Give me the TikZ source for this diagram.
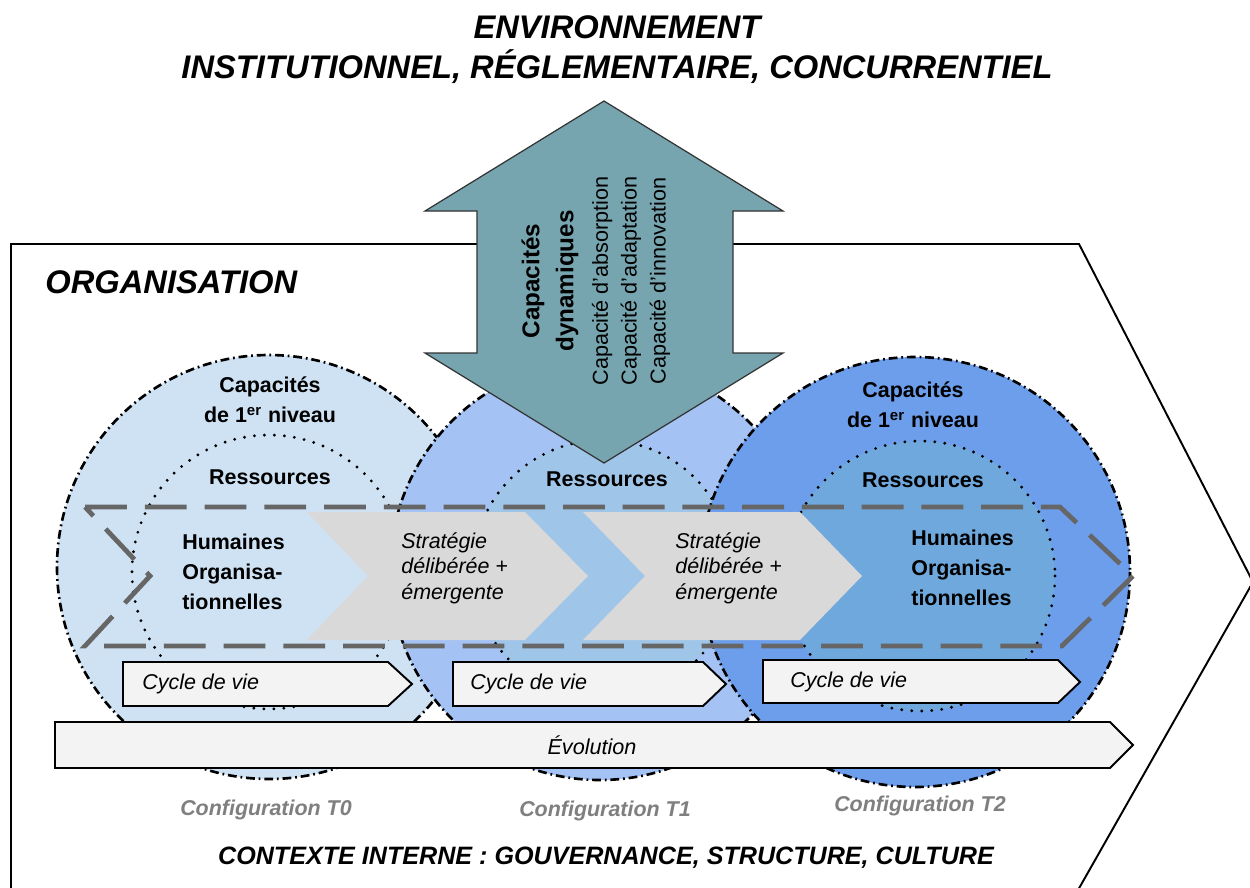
\documentclass[tikz,border=0pt]{standalone}
\usepackage{fontspec}
\setmainfont{Liberation Sans}
\usetikzlibrary{positioning}
\definecolor{capa0}{HTML}{CFE2F3}
\definecolor{capa1}{HTML}{A4C2F4}
\definecolor{capa2}{HTML}{6D9EEB}
\definecolor{res1}{HTML}{9FC5E8}
\definecolor{res2}{HTML}{6FA8DC}
\definecolor{dyncol}{HTML}{76A5AF}
\definecolor{chevgray}{HTML}{D9D9D9}
\definecolor{boxgray}{HTML}{F3F3F3}
\definecolor{bandgray}{HTML}{666666}
\definecolor{confgray}{HTML}{7F7F7F}

\begin{document}
\begin{tikzpicture}[x=0.2mm,y=-0.2mm,
  capa/.style={draw=black,line width=1.5pt,dash pattern=on 5pt off 2.2pt on 1pt off 2.2pt},
  res/.style={draw=black,line width=1.8pt,line cap=round,dash pattern=on 0pt off 5.7pt},
  chev/.style={fill=chevgray},
  band/.style={draw=bandgray,line width=2.7pt,dash pattern=on 23.8pt off 10.2pt},
  lifebox/.style={draw=black,fill=boxgray,line width=1.1pt},
  txt/.style={inner sep=0pt,font=\fontsize{12}{17}\selectfont},
  bold/.style={txt,font=\fontsize{12.2}{17}\selectfont\bfseries,align=center},
  strat/.style={txt,font=\fontsize{12.2}{14.5}\selectfont\itshape,align=left,anchor=west},
  conf/.style={txt,font=\fontsize{12.2}{15}\selectfont\bfseries\itshape,text=confgray},
  big/.style={inner sep=0pt,font=\fontsize{18.6}{22.7}\selectfont\bfseries\itshape,align=center}]
\useasboundingbox (0,0) rectangle (1250,887);

\node[big] (env) at (617,50) {ENVIRONNEMENT\\INSTITUTIONNEL, RÉGLEMENTAIRE, CONCURRENTIEL};

\draw[line width=1.1pt,fill=white] (11,244) -- (1079,244) -- (1253,582) -- (1061,920) -- (11,920) -- cycle;
\node[big,anchor=west] (org) at (45,282) {ORGANISATION};

\coordinate (c0) at (269,567);
\coordinate (c1) at (600,570);
\coordinate (c2) at (915,572);
\coordinate (r0) at (269,572);
\coordinate (r1) at (603,570);
\coordinate (r2) at (920,576);

\draw[capa,fill=capa0] (c0) circle (212);
\draw[res,fill=capa0] (r0) circle (137);
\draw[capa,fill=capa1] (c1) circle (210);
\draw[res,fill=res1] (r1) circle (130);
\draw[capa,fill=capa2] (c2) circle (215);
\draw[res,fill=res2] (r2) circle (135);

\fill[chev] (307,512) -- (525,512) -- (588,576) -- (525,640) -- (307,640) -- (368,576) -- cycle;
\fill[chev] (583,512) -- (800,512) -- (862,576) -- (800,640) -- (583,640) -- (645,576) -- cycle;
\draw[band] (85,507) -- (1060,507) -- (1133,576) -- (1062,646) -- (85,646) -- (150,576) -- cycle;

\node[bold] (cap0) at (270,400) {Capacités\\de 1\textsuperscript{er} niveau};
\node[bold] (cap2) at (913,405) {Capacités\\de 1\textsuperscript{er} niveau};
\node[bold] (res0) at (270,477) {Ressources};
\node[bold] (res1) at (607,479) {Ressources};
\node[bold] (res2) at (923,480) {Ressources};
\node[bold,align=left,anchor=west] (hum0) at (182,572) {Humaines\\Organisa-\\tionnelles};
\node[bold,align=left,anchor=west] (hum2) at (911,568) {Humaines\\Organisa-\\tionnelles};
\node[strat] (str1) at (401,568) {Stratégie\\délibérée +\\émergente};
\node[strat] (str2) at (675,568) {Stratégie\\délibérée +\\émergente};

\draw[lifebox] (123,662) -- (388,662) -- (412,684) -- (388,706) -- (123,706) -- cycle;
\draw[lifebox] (453,662) -- (703,662) -- (726,684) -- (703,706) -- (453,706) -- cycle;
\draw[lifebox] (763,660) -- (1058,660) -- (1080,682) -- (1058,703) -- (763,703) -- cycle;
\node[txt,font=\fontsize{12.2}{17}\selectfont\itshape,anchor=west] (cyc0) at (142,684) {Cycle de vie};
\node[txt,font=\fontsize{12.2}{17}\selectfont\itshape,anchor=west] (cyc1) at (470,684) {Cycle de vie};
\node[txt,font=\fontsize{12.2}{17}\selectfont\itshape,anchor=west] (cyc2) at (790,682) {Cycle de vie};

\draw[lifebox] (55,722) -- (1110,722) -- (1133,745) -- (1110,768) -- (55,768) -- cycle;
\node[txt,font=\fontsize{12.3}{17}\selectfont\itshape] (evo) at (592,745) {Évolution};

\node[conf] (conf0) at (266,810) {Configuration T0};
\node[conf] (conf1) at (605,811) {Configuration T1};
\node[conf] (conf2) at (920,806) {Configuration T2};
\node[big,font=\fontsize{14.3}{17}\selectfont\bfseries\itshape] (ctx) at (606,858) {CONTEXTE INTERNE : GOUVERNANCE, STRUCTURE, CULTURE};

\draw[fill=dyncol,draw=black!80,line width=0.7pt] (604,101) -- (783,211) -- (733,211) -- (733,353) -- (783,353) -- (604,463) -- (425,353) -- (477,353) -- (477,211) -- (425,211) -- cycle;
\node[txt,rotate=90,align=center,font=\fontsize{13.8}{19.3}\selectfont\bfseries] (dyn) at (550,281) {Capacités\\dynamiques};
\node[txt,rotate=90,align=center,font=\fontsize{12.3}{16.4}\selectfont] (dynlist) at (631,281) {Capacité  d'absorption\\Capacité d'adaptation\\Capacité d'innovation};
\end{tikzpicture}
\end{document}
